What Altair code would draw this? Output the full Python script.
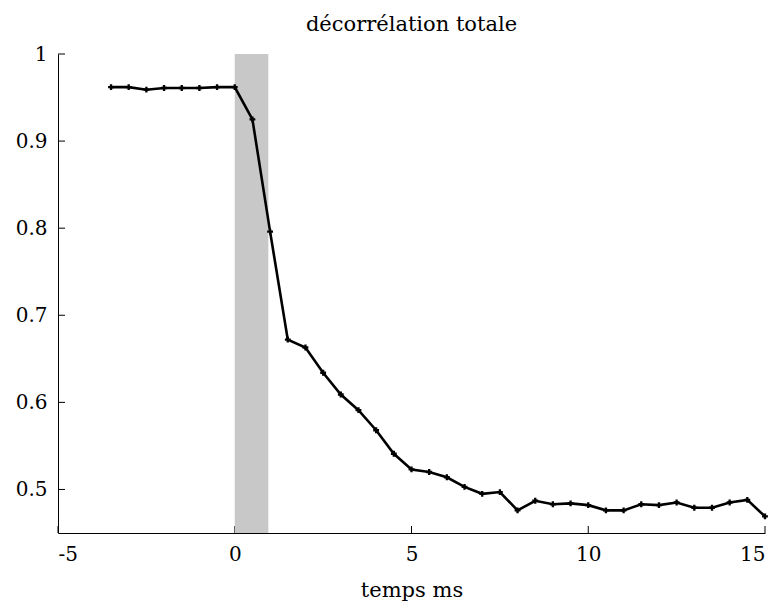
import altair as alt
import pandas as pd

# ---- data ----
t_ms = [-3.5, -3.0, -2.5, -2.0, -1.5, -1.0, -0.5, 0.0, 0.5, 1.0,
        1.5, 2.0, 2.5, 3.0, 3.5, 4.0, 4.5, 5.0, 5.5, 6.0,
        6.5, 7.0, 7.5, 8.0, 8.5, 9.0, 9.5, 10.0, 10.5, 11.0,
        11.5, 12.0, 12.5, 13.0, 13.5, 14.0, 14.5, 15.0]
decorr = [0.962, 0.962, 0.959, 0.961, 0.961, 0.961, 0.962, 0.962, 0.925, 0.796,
          0.672, 0.663, 0.634, 0.609, 0.591, 0.568, 0.541, 0.523, 0.520, 0.514,
          0.503, 0.495, 0.497, 0.476, 0.487, 0.483, 0.484, 0.482, 0.476, 0.476,
          0.483, 0.482, 0.485, 0.479, 0.479, 0.485, 0.488, 0.469]
band_start = [0.0]
band_end = [0.95]
x_ticks = [-5, 0, 5, 10, 15]
y_ticks = [0.5, 0.6, 0.7, 0.8, 0.9, 1.0]
x_domain = [-5, 15]
y_domain = [0.45, 1.0]

FONT = "DejaVu Serif"
W, H = 707, 479
TICK_X = 7 / W * (x_domain[1] - x_domain[0])
TICK_Y = 7 / H * (y_domain[1] - y_domain[0])

xs = alt.Scale(domain=x_domain, nice=False, zero=False)
ys = alt.Scale(domain=y_domain, nice=False, zero=False)
x_axis = alt.Axis(values=x_ticks, title="temps ms", labelExpr="datum.value + ''")
y_axis = alt.Axis(values=y_ticks, title=None, format=".1~f")

line_df = pd.DataFrame({"t": t_ms, "d": decorr})
band_df = pd.DataFrame({"x0": band_start, "x1": band_end})
xt_df = pd.DataFrame({"v": x_ticks})
yt_df = pd.DataFrame({"v": y_ticks})

xticks = alt.Chart(xt_df).transform_calculate(
    lo=str(y_domain[0]), hi=str(y_domain[0] + TICK_Y)
).mark_rule(color="black", strokeWidth=1).encode(
    x=alt.X("v:Q", scale=xs, axis=x_axis),
    y=alt.Y("lo:Q", scale=ys, axis=y_axis),
    y2="hi:Q",
)

yticks = alt.Chart(yt_df).transform_calculate(
    lo=str(x_domain[0]), hi=str(x_domain[0] + TICK_X)
).mark_rule(color="black", strokeWidth=1).encode(
    y=alt.Y("v:Q", scale=ys, axis=y_axis),
    x=alt.X("lo:Q", scale=xs, axis=x_axis),
    x2="hi:Q",
)

band = alt.Chart(band_df).transform_calculate(
    ylo=str(y_domain[0]), yhi=str(y_domain[1])
).mark_rect(color="#c8c8c8").encode(
    x=alt.X("x0:Q", scale=xs, axis=x_axis),
    x2="x1:Q",
    y=alt.Y("ylo:Q", scale=ys, axis=y_axis),
    y2="yhi:Q",
)

line = alt.Chart(line_df).mark_line(color="black", strokeWidth=2.6).encode(
    x=alt.X("t:Q", scale=xs, axis=x_axis),
    y=alt.Y("d:Q", scale=ys, axis=y_axis),
)

pts = alt.Chart(line_df).mark_point(
    shape="cross", filled=True, color="black", size=34, opacity=1
).encode(
    x=alt.X("t:Q", scale=xs, axis=x_axis),
    y=alt.Y("d:Q", scale=ys, axis=y_axis),
)

chart = alt.layer(xticks, yticks, band, line, pts).properties(
    width=W,
    height=H,
    background="white",
    title=alt.TitleParams(
        "décorrélation totale", font=FONT, fontSize=21, fontWeight="normal",
        color="black", anchor="middle", offset=9,
    ),
    autosize=alt.AutoSizeParams(type="none"),
    padding={"left": 50, "top": 46, "right": 5, "bottom": 70},
).configure_view(stroke=None).configure_axis(
    grid=False, ticks=False, domainColor="black", domainWidth=1,
    labelFont=FONT, labelFontSize=20, labelColor="black", labelPadding=11,
    titleFont=FONT, titleFontSize=21, titleFontWeight="normal", titleColor="black",
    titlePadding=15,
)

chart.save("out.html", embed_options={"renderer": "svg", "actions": False})
